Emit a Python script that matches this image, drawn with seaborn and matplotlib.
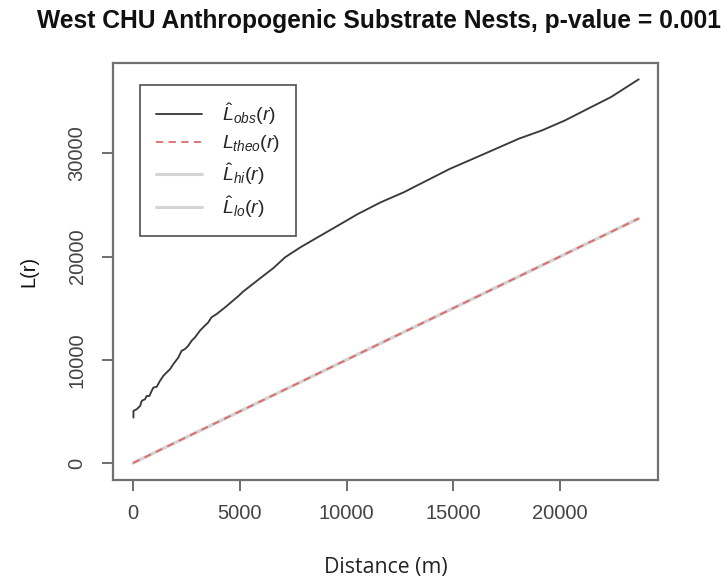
import matplotlib
matplotlib.use("Agg")
import matplotlib.pyplot as plt
import seaborn as sns
import pandas as pd

# ---- data ----
r_obs = [16, 16, 170, 330, 405, 560, 640, 760, 870, 950, 1105, 1260, 1420, 1570,
         1730, 1885, 2120, 2270, 2430, 2585, 2740, 2900, 3130, 3360, 3520, 3670,
         3910, 4140, 4380, 4690, 4920, 5150, 5860, 6580, 7120, 7840, 8380, 9460,
         10540, 11610, 12690, 13770, 14850, 15930, 17000, 18080, 19160, 20240,
         21320, 22400, 23690]
L_obs = [4400, 5050, 5210, 5530, 6020, 6180, 6500, 6480, 6990, 7310, 7380, 7960,
         8450, 8770, 9090, 9580, 10220, 10870, 11040, 11360, 11840, 12170, 12820,
         13300, 13620, 14110, 14430, 14800, 15200, 15750, 16150, 16600, 17750,
         18900, 19930, 20900, 21550, 22840, 24140, 25270, 26240, 27380, 28510,
         29480, 30450, 31430, 32230, 33200, 34340, 35470, 37180]
r_env = [0, 23690]
L_theo = [0, 23690]
L_hi = [0, 23690]
L_lo = [0, 23690]

x_ticks = [0, 5000, 10000, 15000, 20000]
y_ticks = [0, 10000, 20000, 30000]

title = "West CHU Anthropogenic Substrate Nests, p-value = 0.001"
xlabel = "Distance (m)"
ylabel = "L(r)"
labels = [r"$\hat{L}_{obs}(r)$", r"$L_{theo}(r)$", r"$\hat{L}_{hi}(r)$", r"$\hat{L}_{lo}(r)$"]

sns.set_theme(style="ticks")
plt.rcParams["font.family"] = ["Liberation Sans", "DejaVu Sans"]
plt.rcParams["mathtext.fontset"] = "custom"
plt.rcParams["mathtext.it"] = "Liberation Sans:italic"
plt.rcParams["mathtext.rm"] = "Liberation Sans"
plt.rcParams["mathtext.bf"] = "Liberation Sans:bold"

fig = plt.figure(figsize=(7.24, 5.79), dpi=100)
ax = fig.add_axes([0.156, 0.171, 0.753, 0.720])

df_obs = pd.DataFrame({"r": r_obs, "L": L_obs})
df_env = pd.DataFrame({"r": r_env, "theo": L_theo, "hi": L_hi, "lo": L_lo})

sns.lineplot(data=df_env, x="r", y="hi", ax=ax, color="#d4d4d4", linewidth=2.2, label=labels[2], legend=False)
sns.lineplot(data=df_env, x="r", y="lo", ax=ax, color="#d4d4d4", linewidth=2.2, label=labels[3], legend=False)
sns.lineplot(data=df_env, x="r", y="theo", ax=ax, color="#e06a6a", linewidth=1.3, label=labels[1], legend=False)
ax.lines[-1].set_dashes((4, 3))
sns.lineplot(data=df_obs, x="r", y="L", ax=ax, color="#3a3a3a", linewidth=1.35, label=labels[0],
             legend=False, sort=False, estimator=None)

ax.set_xlim(-945, 24600)
ax.set_ylim(-1650, 38750)
ax.set_xticks(x_ticks)
ax.set_yticks(y_ticks)
ax.set_xticklabels([str(v) for v in x_ticks])
ax.set_yticklabels([str(v) for v in y_ticks], rotation=90, va="center")
ax.tick_params(axis="both", direction="out", length=8, width=1.2, colors="#555555",
               labelsize=14.5, labelcolor="#444444")
ax.tick_params(axis="x", pad=9)
ax.tick_params(axis="y", pad=11)

for s in ax.spines.values():
    s.set_color("#707070")
    s.set_linewidth(1.6)

ax.set_xlabel(xlabel, fontsize=15.3, family=["Open Sans", "DejaVu Sans"], color="#222222", labelpad=25)
ax.set_ylabel(ylabel, fontsize=14.5, color="#111111", labelpad=21)
fig.suptitle(title, fontsize=17.7, fontweight="bold", x=0.523, y=0.985, color="#111111")

h = {l.get_label(): l for l in ax.lines}
handles = [h[lab] for lab in labels]
leg = ax.legend(handles, labels, loc="upper left", bbox_to_anchor=(0.05, 0.947),
                fontsize=14, frameon=True, fancybox=False, edgecolor="#222222",
                handlelength=2.4, handletextpad=1.0, labelspacing=0.35,
                borderpad=0.8, borderaxespad=0)
leg.get_frame().set_linewidth(1.2)

fig.savefig("out.png", dpi=100, facecolor="white")
